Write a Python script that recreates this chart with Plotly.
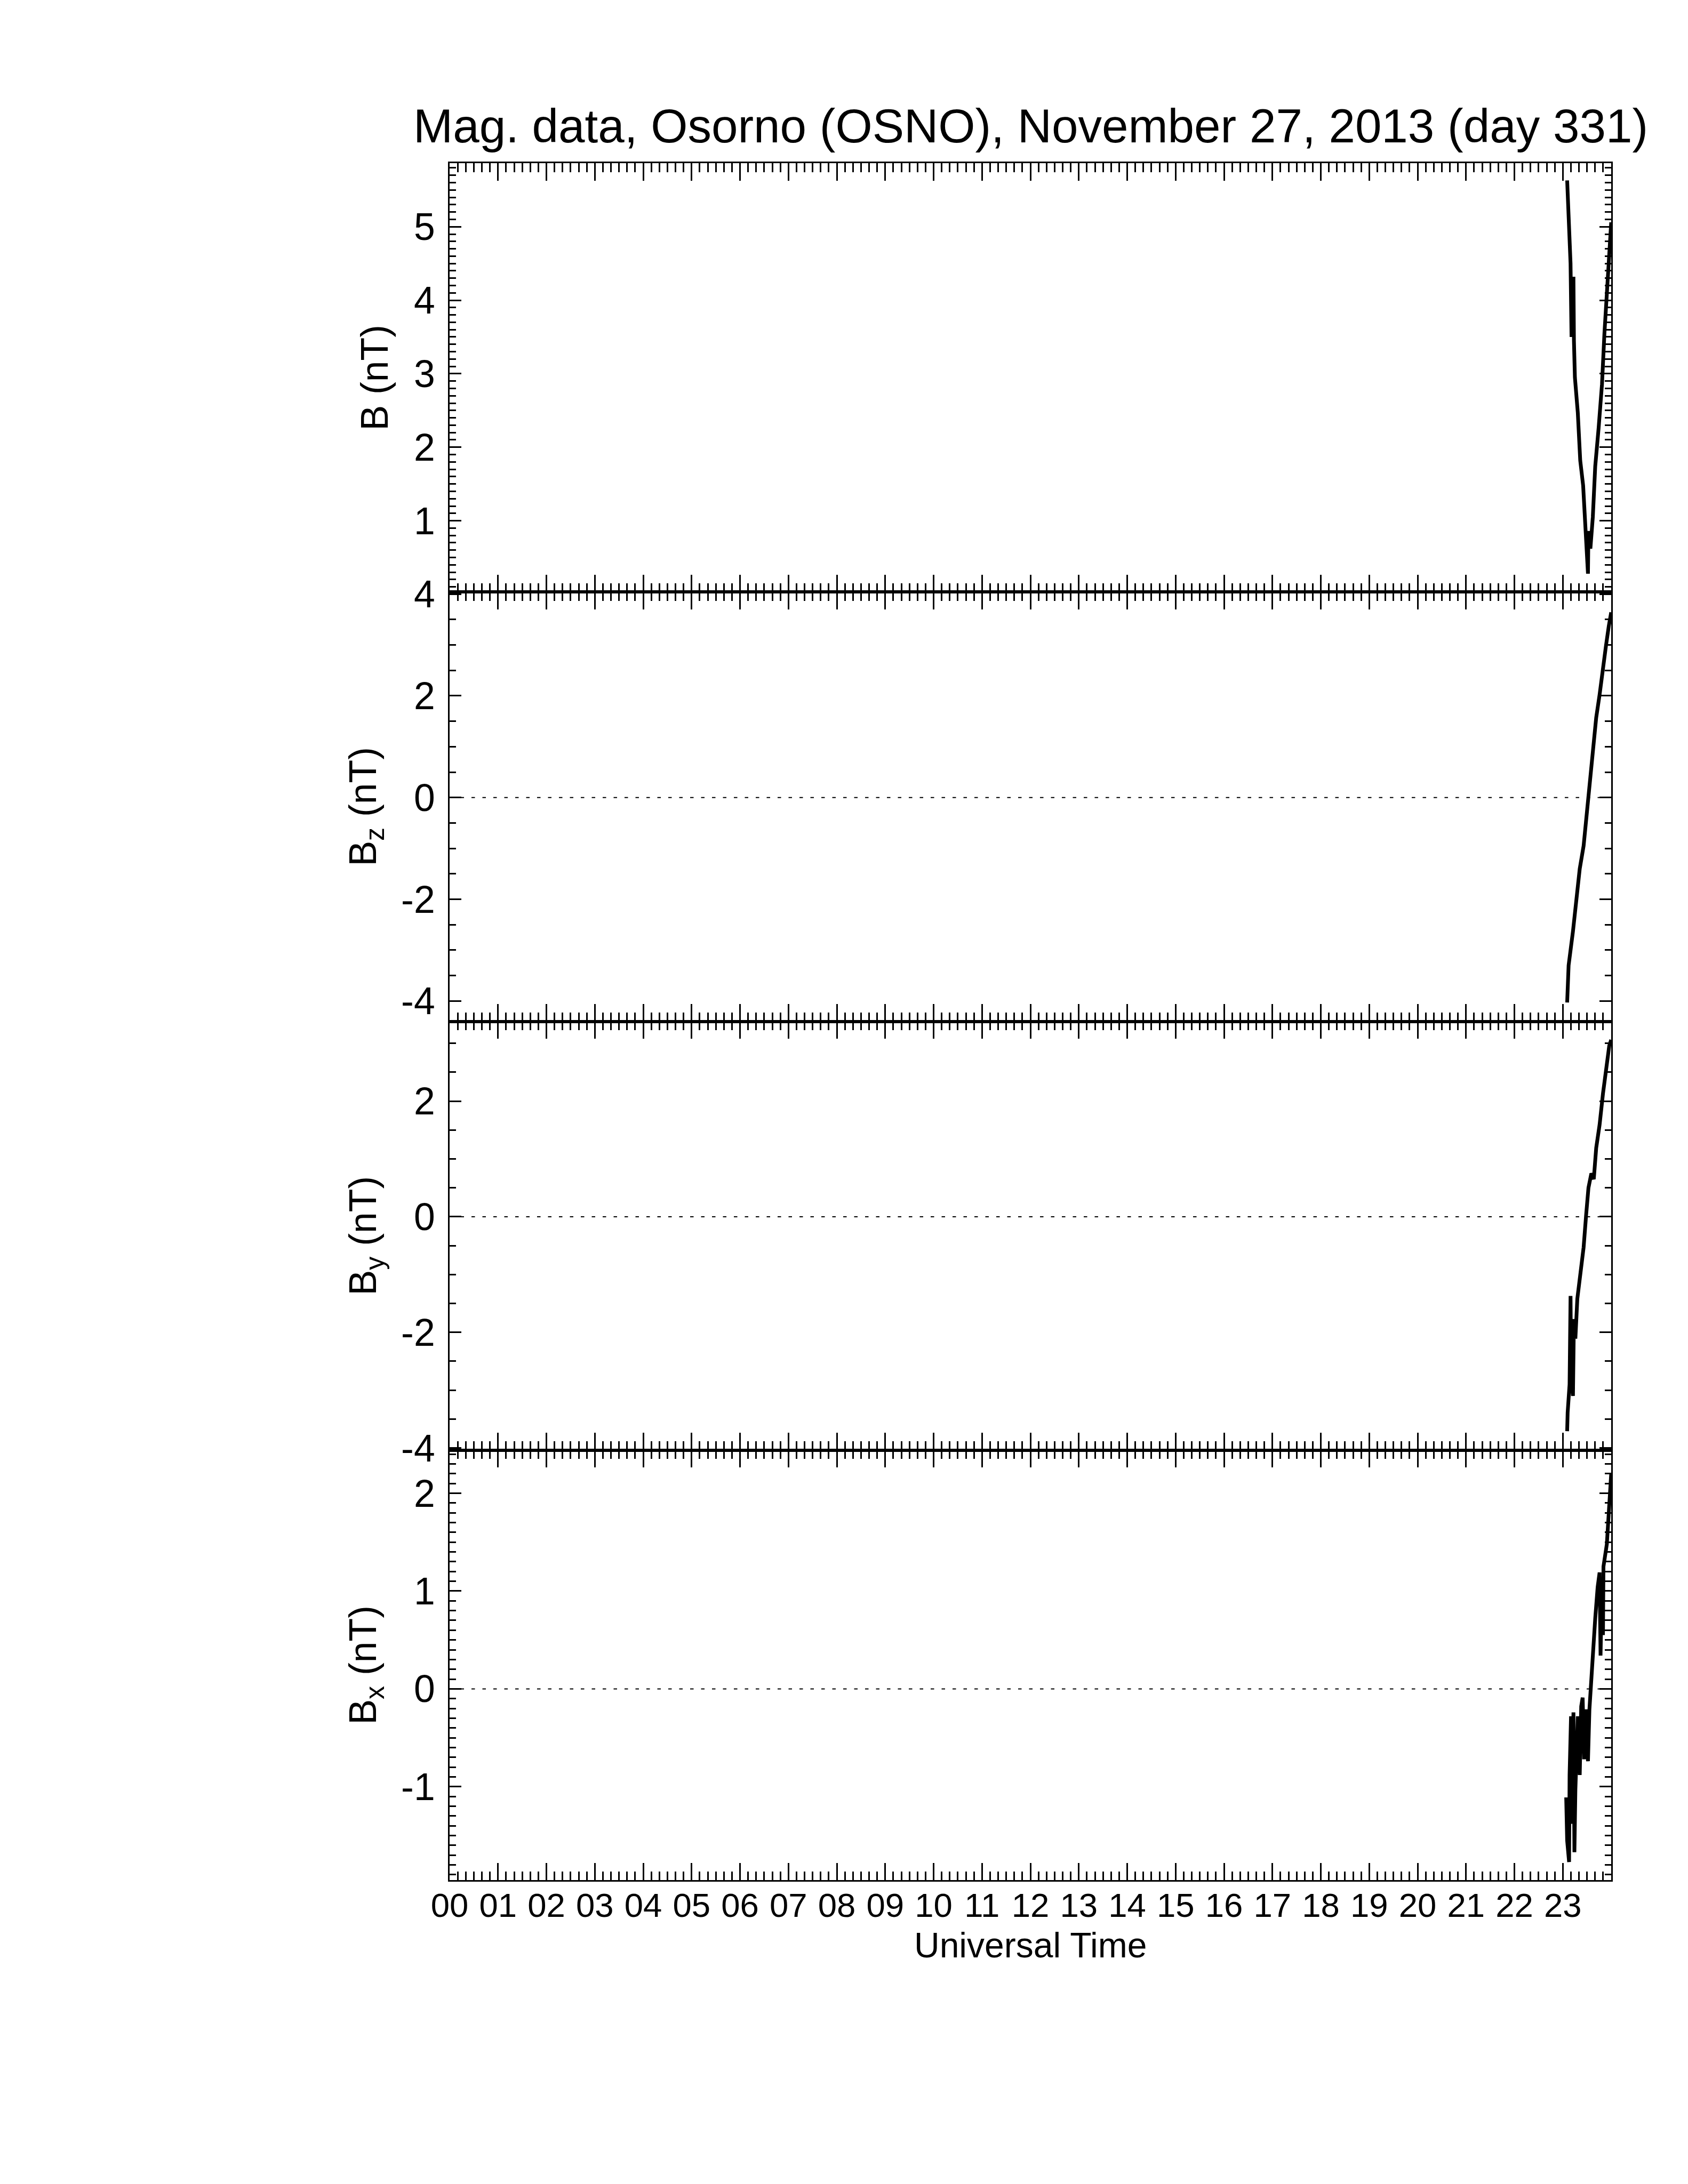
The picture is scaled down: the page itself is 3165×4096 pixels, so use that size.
import plotly.graph_objects as go

# ---------------- figure geometry ----------------
W, H = 3165, 4096
S = W / 3400.0  # scale from the 3400x4400 reference

# ---------------- data (hours UT, nT) ----------------
TITLE = "Mag. data, Osorno (OSNO), November 27, 2013 (day 331)"
X_TITLE = "Universal Time"
X_TICK_VALUES = [0, 1, 2, 3, 4, 5, 6, 7, 8, 9, 10, 11, 12, 13, 14, 15, 16, 17, 18, 19, 20, 21, 22, 23]
X_TICK_LABELS = ["00", "01", "02", "03", "04", "05", "06", "07", "08", "09", "10", "11",
                 "12", "13", "14", "15", "16", "17", "18", "19", "20", "21", "22", "23"]

B_TIME = [23.09, 23.11, 23.14, 23.16, 23.18, 23.22, 23.23, 23.25, 23.31, 23.36, 23.42, 23.47,
          23.52, 23.53, 23.57, 23.62, 23.67, 23.74, 23.81, 23.86, 23.91, 23.96, 24.00]
B_VAL = [5.63, 5.28, 4.84, 4.50, 3.50, 4.32, 3.45, 2.95, 2.47, 1.82, 1.48, 0.96,
         0.28, 0.86, 0.62, 1.05, 1.74, 2.26, 2.86, 3.55, 4.11, 4.71, 5.06]

BZ_TIME = [23.09, 23.12, 23.21, 23.28, 23.35, 23.43, 23.50, 23.55, 23.59, 23.64, 23.69,
           23.76, 23.83, 23.89, 23.95, 24.00]
BZ_VAL = [-4.03, -3.30, -2.63, -2.07, -1.40, -0.95, -0.28, 0.22, 0.73, 1.23, 1.57,
          2.02, 2.47, 2.97, 3.37, 3.64]

BY_TIME = [23.09, 23.10, 23.14, 23.16, 23.17, 23.21, 23.23, 23.26, 23.30, 23.37, 23.43,
           23.48, 23.53, 23.59, 23.64, 23.69, 23.76, 23.83, 23.89, 23.96, 24.00]
BY_VAL = [-3.71, -3.39, -2.90, -1.37, -2.60, -3.10, -1.77, -2.11, -1.42, -0.93, -0.53,
          0.01, 0.50, 0.75, 0.65, 1.19, 1.59, 2.13, 2.57, 2.96, 3.06]

BX_TIME = [23.07, 23.09, 23.13, 23.14, 23.17, 23.19, 23.22, 23.24, 23.26, 23.31, 23.35,
           23.38, 23.41, 23.44, 23.48, 23.52, 23.55, 23.60, 23.64, 23.67, 23.72, 23.76,
           23.78, 23.81, 23.83, 23.84, 23.91, 23.96, 23.99, 24.00]
BX_VAL = [-1.11, -1.55, -1.77, -0.88, -0.28, -1.38, -0.24, -1.67, -1.03, -0.28, -0.88,
          -0.18, -0.09, -0.72, -0.21, -0.74, -0.21, 0.20, 0.58, 0.72, 1.04, 1.19,
          0.34, 1.13, 0.55, 1.25, 1.48, 1.89, 2.03, 2.20]

PANEL_LABELS = ["B (nT)", "B<sub>z</sub> (nT)", "B<sub>y</sub> (nT)", "B<sub>x</sub> (nT)"]
PANEL_TIMES = [B_TIME, BZ_TIME, BY_TIME, BX_TIME]
PANEL_VALUES = [B_VAL, BZ_VAL, BY_VAL, BX_VAL]
PANEL_RANGES = [[0.03, 5.865], [-4.40, 4.04], [-4.04, 3.38], [-1.955, 2.44]]
PANEL_TICK_VALUES = [[1, 2, 3, 4, 5], [-4, -2, 0, 2, 4], [-4, -2, 0, 2], [-1, 0, 1, 2]]
PANEL_TICK_LABELS = [["1", "2", "3", "4", "5"], ["-4", "-2", "0", "2", "4"],
                     ["-4", "-2", "0", "2"], ["-1", "0", "1", "2"]]
PANEL_MINOR = [0.1, 0.5, 0.5, 0.1]
PANEL_ZERO_LINE = [False, True, True, True]
X_RANGE = [0, 24]
ZERO_LEVEL = 0

# ---------------- layout geometry (reference px -> window px) ----------------
PLOT_LEFT = 897 * S
PLOT_RIGHT = 3237 * S
EDGES = [e * S for e in (320, 1184, 2049, 2913, 3779)]
M_L = PLOT_LEFT
M_R = W - PLOT_RIGHT
M_T = EDGES[0]
M_B = H - EDGES[-1]
PH = H - M_T - M_B
PW = PLOT_RIGHT - PLOT_LEFT


def yp(py):
    return (H - M_B - py) / PH


def xp(px):
    return (px - PLOT_LEFT) / PW


FONT = "Liberation Sans, Arial, Helvetica, sans-serif"
YTICK_FS = 71.5
XTICK_FS = 63.5
YTITLE_FS = 71.5
XTITLE_FS = 66
TITLE_FS = 89
AX_LW = 3
TICK_W = 2.6

fig = go.Figure()
layout = dict(
    width=W, height=H,
    paper_bgcolor="white", plot_bgcolor="white",
    margin=dict(l=M_L, r=M_R, t=M_T, b=M_B, pad=0),
    showlegend=False,
    font=dict(family=FONT, color="black"),
    annotations=[],
)

for i in range(4):
    n = "" if i == 0 else str(i + 1)
    xa, ya = "x" + n, "y" + n
    top, bot = EDGES[i], EDGES[i + 1]
    if PANEL_ZERO_LINE[i]:
        fig.add_trace(go.Scatter(x=X_RANGE, y=[ZERO_LEVEL, ZERO_LEVEL], mode="lines",
                                 line=dict(color="black", width=2, dash="6.5px,14px"),
                                 xaxis=xa, yaxis=ya, hoverinfo="skip"))
    fig.add_trace(go.Scatter(x=PANEL_TIMES[i], y=PANEL_VALUES[i], mode="lines",
                             line=dict(color="black", width=7), xaxis=xa, yaxis=ya,
                             hoverinfo="skip"))
    last = i == 3
    layout["xaxis" + n] = dict(
        domain=[0, 1], anchor=ya, range=X_RANGE,
        tickmode="array", tickvals=X_TICK_VALUES, ticktext=X_TICK_LABELS,
        showticklabels=last, ticks="inside", ticklen=32.5, tickwidth=TICK_W, tickcolor="black",
        minor=dict(tickmode="linear", tick0=0, dtick=1 / 6, ticks="inside", ticklen=16.5,
                   tickwidth=TICK_W, tickcolor="black", showgrid=False),
        showline=True, linewidth=AX_LW, linecolor="black", mirror="allticks",
        showgrid=False, zeroline=False,
        tickfont=dict(size=XTICK_FS, family=FONT, color="black"),
        ticklabelstandoff=-10,
    )
    if i > 0:
        layout["xaxis" + n]["matches"] = "x"
    layout["yaxis" + n] = dict(
        domain=[yp(bot), yp(top)], anchor=xa, range=PANEL_RANGES[i],
        tickmode="array", tickvals=PANEL_TICK_VALUES[i], ticktext=PANEL_TICK_LABELS[i],
        ticks="inside", ticklen=22, tickwidth=TICK_W, tickcolor="black",
        minor=dict(tickmode="linear", tick0=0, dtick=PANEL_MINOR[i], ticks="inside",
                   ticklen=12, tickwidth=TICK_W, tickcolor="black", showgrid=False),
        showline=True, linewidth=AX_LW, linecolor="black", mirror="allticks",
        showgrid=False, zeroline=False,
        tickfont=dict(size=YTICK_FS, family=FONT, color="black"),
        ticklabelstandoff=10,
    )
    label_x = 746 * S if i == 0 else 728 * S
    layout["annotations"].append(dict(
        text=PANEL_LABELS[i], textangle=-90, showarrow=False,
        xref="paper", yref="paper", x=xp(label_x), y=yp((top + bot) / 2),
        xanchor="center", yanchor="middle",
        font=dict(size=YTITLE_FS, family=FONT, color="black"),
    ))

layout["annotations"].append(dict(
    text=TITLE, showarrow=False, xref="paper", yref="paper",
    x=0.5, y=yp(245 * S), xanchor="center", yanchor="middle",
    font=dict(size=TITLE_FS, family=FONT, color="black"),
))
layout["annotations"].append(dict(
    text=X_TITLE, showarrow=False, xref="paper", yref="paper",
    x=0.5, y=yp(3910 * S), xanchor="center", yanchor="middle",
    font=dict(size=XTITLE_FS, family=FONT, color="black"),
))

fig.update_layout(**layout)
fig.write_html("out.html")
